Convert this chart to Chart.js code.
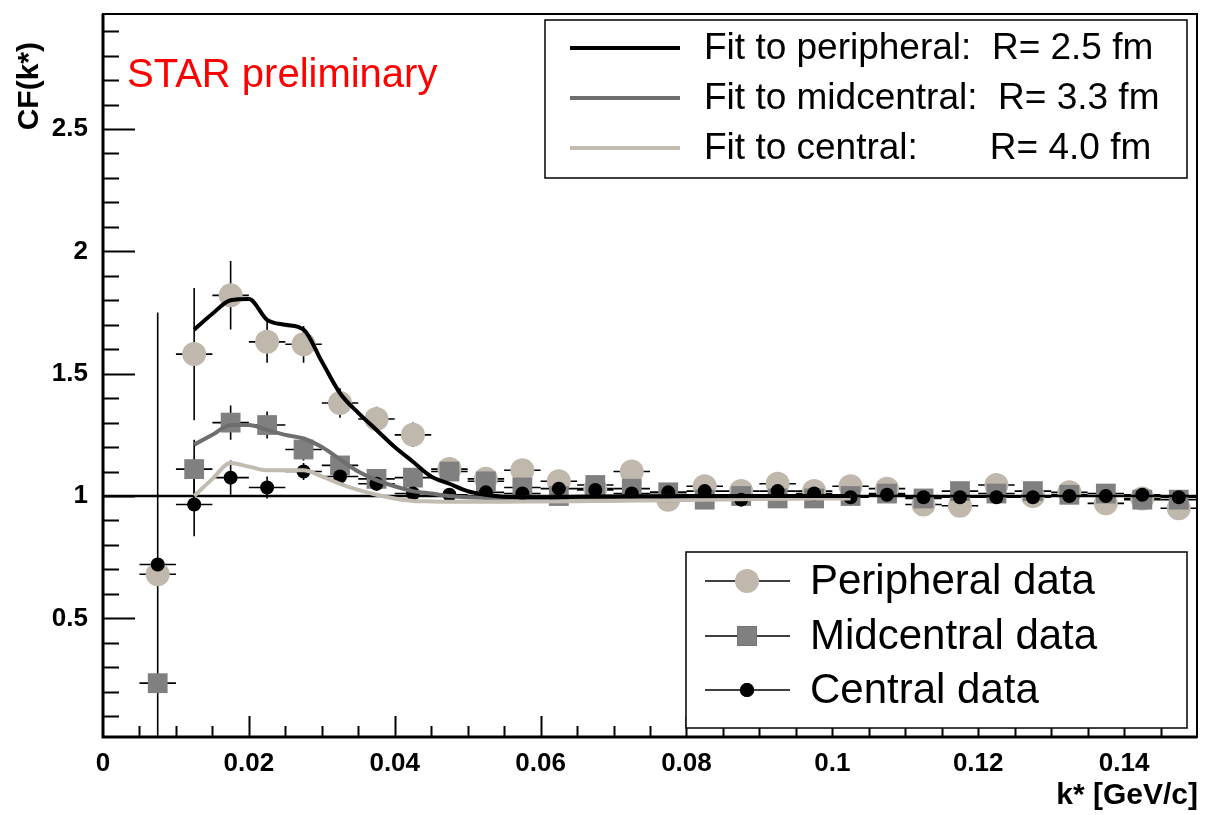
<!DOCTYPE html>
<html><head><meta charset="utf-8">
<script src="https://cdn.jsdelivr.net/npm/chart.js@4.4.1/dist/chart.umd.min.js"></script>
<style>html,body{margin:0;padding:0;background:#fff;}#wrap{width:1211px;height:815px;}</style>
</head><body><div id="wrap"><canvas id="c" width="1211" height="815"></canvas></div>
<script>
// ---- data ----
const kStar = [0.0075,0.0125,0.0175,0.0225,0.0275,0.0325,0.0375,0.0425,0.0475,0.0525,0.0575,0.0625,0.0675,0.0725,0.0775,0.0825,0.0875,0.0925,0.0975,0.1025,0.1075,0.1125,0.1175,0.1225,0.1275,0.1325,0.1375,0.1425,0.1475];
const peripheral    = [0.68,1.58,1.82,1.63,1.62,1.38,1.315,1.25,1.11,1.07,1.105,1.06,1.03,1.10,0.985,1.04,1.02,1.05,1.02,1.04,1.03,0.965,0.96,1.045,1.0,1.015,0.97,0.99,0.95];
const peripheralErr = [0.03,0.27,0.14,0.085,0.075,0.06,0.05,0.05,0.035,0.03,0.03,0.025,0.025,0.025,0.02,0.02,0.02,0.02,0.02,0.02,0.02,0.02,0.02,0.02,0.02,0.02,0.02,0.02,0.02];
const midcentral    = [0.235,1.11,1.30,1.29,1.19,1.125,1.07,1.075,1.10,1.06,1.035,1.0,1.045,1.03,1.015,0.985,1.0,0.99,0.99,1.0,1.01,0.99,1.02,1.01,1.02,1.005,1.01,0.985,0.985];
const midcentralErr = [0.03,0.12,0.07,0.055,0.045,0.035,0.03,0.03,0.025,0.02,0.02,0.02,0.02,0.02,0.02,0.02,0.02,0.02,0.02,0.02,0.02,0.02,0.02,0.02,0.02,0.02,0.02,0.02,0.02];
const central       = [0.72,0.965,1.075,1.035,1.10,1.08,1.05,1.01,1.005,1.015,1.01,1.03,1.025,1.01,1.015,1.02,0.985,1.02,1.01,0.995,1.005,0.995,0.995,0.995,0.995,1.0,1.0,1.005,0.995];
const centralErr    = [1.03,0.13,0.07,0.045,0.035,0.03,0.03,0.025,0.02,0.02,0.02,0.02,0.02,0.02,0.02,0.02,0.02,0.02,0.02,0.02,0.02,0.02,0.02,0.02,0.02,0.02,0.02,0.02,0.02];
const binHalfWidth = 0.0025;

const fitK          = [0.0125,0.015,0.0175,0.02,0.0225,0.025,0.0275,0.03,0.0325,0.035,0.0375,0.04,0.0425,0.045,0.0475,0.05,0.0525,0.055,0.06,0.065,0.07,0.075,0.08,0.085,0.09,0.095,0.1,0.1025];
const fitPeripheral = [1.68,1.745,1.80,1.805,1.72,1.70,1.68,1.55,1.42,1.34,1.27,1.20,1.14,1.08,1.05,1.02,1.005,0.997,0.995,0.997,0.998,0.999,1.0,1.0,1.0,1.0,1.0,1.0];
const fitMidcentral = [1.21,1.25,1.29,1.29,1.27,1.25,1.235,1.20,1.15,1.10,1.065,1.04,1.02,1.01,1.0,0.995,0.993,0.993,0.994,0.995,0.996,0.997,0.998,0.999,1.0,1.0,1.0,1.0];
const fitCentral    = [1.0,1.07,1.135,1.12,1.105,1.105,1.105,1.08,1.05,1.025,1.005,0.99,0.98,0.978,0.977,0.977,0.977,0.977,0.978,0.979,0.98,0.982,0.984,0.986,0.988,0.989,0.99,0.99];

const refK  = [0, 0.15];
const refCF = [1, 1];

const xTickValues = [0,0.02,0.04,0.06,0.08,0.1,0.12,0.14];
const yTickValues = [0.5,1,1.5,2,2.5];

const fitLabels  = ['Fit to peripheral:  R= 2.5 fm','Fit to midcentral:  R= 3.3 fm','Fit to central:       R= 4.0 fm'];
const dataLabels = ['Peripheral data','Midcentral data','Central data'];

// ---- styles ----
const C_BEIGE = 'rgb(192,184,172)';
const C_GRAY  = 'rgb(128,128,128)';
const C_FITGRAY = 'rgb(110,110,110)';
const C_FITBEIGE = 'rgb(194,187,178)';
const FONT = '"Liberation Sans", Arial, Helvetica, sans-serif';

const pts = (xs, ys) => xs.map((x, i) => ({x, y: ys[i]}));
const fmt = v => String(Math.round(v * 1000) / 1000);

const errorBars = {
  id: 'errorBars',
  beforeDatasetsDraw(chart) {
    const {ctx, chartArea: a, scales: {x, y}} = chart;
    ctx.save();
    ctx.beginPath(); ctx.rect(a.left, a.top, a.right - a.left, a.bottom - a.top); ctx.clip();
    ctx.strokeStyle = '#000'; ctx.lineWidth = 1.6;
    [[peripheral, peripheralErr], [midcentral, midcentralErr], [central, centralErr]].forEach(([vals, errs]) => {
      vals.forEach((v, i) => {
        const px = x.getPixelForValue(kStar[i]);
        const py = y.getPixelForValue(v);
        ctx.beginPath();
        ctx.moveTo(x.getPixelForValue(kStar[i] - binHalfWidth), py);
        ctx.lineTo(x.getPixelForValue(kStar[i] + binHalfWidth), py);
        ctx.moveTo(px, y.getPixelForValue(v - errs[i]));
        ctx.lineTo(px, y.getPixelForValue(v + errs[i]));
        ctx.stroke();
      });
    });
    ctx.restore();
  }
};

const frameTicks = {
  id: 'frameTicks',
  afterDatasetsDraw(chart) {
    const {ctx, chartArea: a, scales: {x, y}} = chart;
    ctx.save();
    ctx.strokeStyle = '#000';
    ctx.lineWidth = 2;
    ctx.beginPath();
    for (let i = 1; i * 0.1 < y.max; i++) {
      const v = i * 0.1;
      if (v < y.min) continue;
      const py = Math.round(y.getPixelForValue(v)) + 0.5;
      const len = (i % 5 === 0) ? 32 : 16;
      ctx.moveTo(a.left, py); ctx.lineTo(a.left + len, py);
    }
    for (let i = 1; i * 0.005 < x.max - 1e-9; i++) {
      const v = i * 0.005;
      const px = Math.round(x.getPixelForValue(v)) + 0.5;
      const len = (i % 4 === 0) ? 21 : 11;
      ctx.moveTo(px, a.bottom); ctx.lineTo(px, a.bottom - len);
    }
    ctx.stroke();
    ctx.lineWidth = 2;
    ctx.strokeRect(a.left, a.top, a.right - a.left, a.bottom - a.top);
    ctx.lineWidth = 3;
    ctx.beginPath();
    ctx.moveTo(a.left, a.top); ctx.lineTo(a.left, a.bottom); ctx.lineTo(a.right, a.bottom);
    ctx.stroke();
    ctx.restore();
  }
};

const annotations = {
  id: 'annotations',
  afterDraw(chart) {
    const {ctx, chartArea: a} = chart;
    const ds = chart.data.datasets;
    ctx.save();
    ctx.fillStyle = '#ff0000';
    ctx.font = '40px ' + FONT;
    ctx.textBaseline = 'middle';
    ctx.textAlign = 'left';
    ctx.fillText('STAR preliminary', 127, 76);

    ctx.fillStyle = '#000';
    ctx.font = 'bold 30px ' + FONT;
    ctx.textAlign = 'right';
    ctx.textBaseline = 'middle';
    ctx.fillText('k* [GeV/c]', a.right + 1, 796);
    ctx.save();
    ctx.translate(30, 42);
    ctx.rotate(-Math.PI / 2);
    ctx.textAlign = 'right';
    ctx.font = 'bold 30px ' + FONT;
    ctx.fillText('CF(k*)', 0, 0);
    ctx.restore();

    // legend 1 (fits)
    ctx.fillStyle = '#fff';
    ctx.fillRect(545, 20, 642, 158);
    ctx.strokeStyle = '#000'; ctx.lineWidth = 1.5;
    ctx.strokeRect(545, 20, 642, 158);
    ctx.font = '37px ' + FONT;
    ctx.textAlign = 'left';
    const fitSets = [ds[0], ds[1], ds[2]];
    [48, 98, 148].forEach((ly, i) => {
      ctx.strokeStyle = fitSets[i].borderColor;
      ctx.lineWidth = 4;
      ctx.beginPath(); ctx.moveTo(570, ly); ctx.lineTo(680, ly); ctx.stroke();
      ctx.fillStyle = '#000';
      ctx.fillText(fitLabels[i], 704, ly + 1);
    });

    // legend 2 (data)
    ctx.fillStyle = '#fff';
    ctx.fillRect(686, 552, 501, 176);
    ctx.strokeStyle = '#000'; ctx.lineWidth = 1.5;
    ctx.strokeRect(686, 552, 501, 176);
    ctx.font = '42px ' + FONT;
    const dataSets = [ds[4], ds[5], ds[6]];
    [581, 636, 690].forEach((ly, i) => {
      ctx.strokeStyle = '#000'; ctx.lineWidth = 1.5;
      ctx.beginPath(); ctx.moveTo(705, ly); ctx.lineTo(790, ly); ctx.stroke();
      const d = dataSets[i];
      Chart.helpers.drawPoint(ctx, {pointStyle: d.pointStyle, radius: d.pointRadius, borderWidth: 0}, 747, ly);
      ctx.fillStyle = d.backgroundColor;
      ctx.fill();
      ctx.fillStyle = '#000';
      ctx.fillText(dataLabels[i], 810, ly + 1);
    });
    ctx.restore();
  }
};

const tickFont = {family: FONT, size: 26, weight: 'bold'};

new Chart(document.getElementById('c'), {
  type: 'scatter',
  data: {
    datasets: [
      {label: 'fitPeripheral', data: pts(fitK, fitPeripheral), showLine: true, borderColor: '#000', borderWidth: 4, pointRadius: 0, cubicInterpolationMode: 'monotone', order: 1},
      {label: 'fitMidcentral', data: pts(fitK, fitMidcentral), showLine: true, borderColor: C_FITGRAY, borderWidth: 4, pointRadius: 0, cubicInterpolationMode: 'monotone', order: 2},
      {label: 'fitCentral', data: pts(fitK, fitCentral), showLine: true, borderColor: C_FITBEIGE, borderWidth: 4, pointRadius: 0, cubicInterpolationMode: 'monotone', order: 3},
      {label: 'ref', data: pts(refK, refCF), showLine: true, borderColor: '#000', borderWidth: 2.5, pointRadius: 0, order: 4},
      {label: 'Peripheral data', data: pts(kStar, peripheral), pointStyle: 'circle', pointRadius: 12, backgroundColor: C_BEIGE, borderWidth: 0, order: 7},
      {label: 'Midcentral data', data: pts(kStar, midcentral), pointStyle: 'rect', pointRadius: 14, backgroundColor: C_GRAY, borderWidth: 0, order: 6},
      {label: 'Central data', data: pts(kStar, central), pointStyle: 'circle', pointRadius: 7, backgroundColor: '#000', borderWidth: 0, order: 5}
    ]
  },
  options: {
    responsive: false,
    animation: false,
    devicePixelRatio: 1,
    layout: {padding: {top: 11, right: 12, left: 0, bottom: 0}},
    plugins: {legend: {display: false}, tooltip: {enabled: false}},
    elements: {point: {hoverRadius: 0}},
    scales: {
      x: {
        type: 'linear', min: 0, max: 0.15,
        grid: {display: false, drawTicks: false}, border: {display: false},
        afterBuildTicks: s => { s.ticks = xTickValues.map(v => ({value: v})); },
        afterFit: s => { s.height = 78; s.paddingLeft = 0; s.paddingRight = 0; },
        ticks: {padding: 11, color: '#000', font: tickFont, maxRotation: 0, autoSkip: false, callback: v => fmt(v)}
      },
      y: {
        type: 'linear', min: 0.015, max: 2.97,
        grid: {display: false, drawTicks: false}, border: {display: false},
        afterBuildTicks: s => { s.ticks = yTickValues.map(v => ({value: v})); },
        afterFit: s => { s.width = 103; s.paddingTop = 0; s.paddingBottom = 0; },
        ticks: {padding: 15, color: '#000', font: tickFont, autoSkip: false, callback: v => fmt(v)}
      }
    }
  },
  plugins: [errorBars, frameTicks, annotations]
});
</script>
</body></html>
